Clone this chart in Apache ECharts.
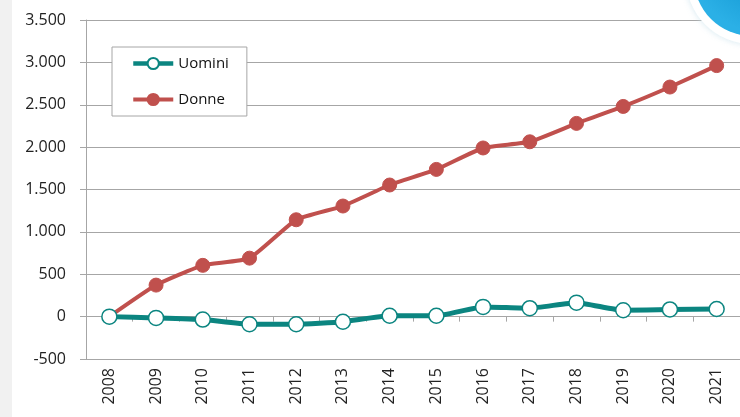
<!DOCTYPE html>
<html>
<head>
<meta charset="utf-8">
<script src="https://cdn.jsdelivr.net/npm/echarts@6/dist/echarts.min.js"></script>
<style>
  html, body { margin: 0; padding: 0; background: #fff; }
  #chart { width: 740px; height: 417px; }
</style>
</head>
<body>
<div id="chart"></div>
<script>
// dati del grafico
const anni = ['2008', '2009', '2010', '2011', '2012', '2013', '2014', '2015', '2016', '2017', '2018', '2019', '2020', '2021'];
const uomini = [0, -15, -35, -90, -90, -60, 10, 10, 115, 100, 165, 75, 85, 90];
const donne = [0, 372, 605, 690, 1143, 1305, 1553, 1737, 1990, 2063, 2280, 2480, 2709, 2962];
const yMin = -500;
const yMax = 3500;
const yStep = 500;

const chart = echarts.init(document.getElementById('chart'));

// formato italiano: 3.500
function formatIt(v) {
    const s = String(Math.abs(v)).replace(/\B(?=(\d{3})+(?!\d))/g, '.');
    return (v < 0 ? '-' : '') + s;
}

const grigio = '#a6a6a6';
const verde = '#0b8580';
const rosso = '#c0504d';
const font = '"Open Sans", sans-serif';

const options = {
    animation: false,
    textStyle: { fontFamily: font },
    graphic: [
        // striscia grigia a sinistra
        { type: 'rect', left: 0, top: 0, shape: { width: 12, height: 417 }, style: { fill: '#f1f1f1' }, z: -10 },
        // decorazione blu in alto a destra
        {
            type: 'circle', shape: { cx: 752, cy: -22, r: 58 }, z: 100,
            style: {
                fill: new echarts.graphic.RadialGradient(0.7, 0.2, 0.8, [
                    { offset: 0, color: '#7fd0f0' },
                    { offset: 0.6, color: '#1a9fd8' },
                    { offset: 1, color: '#2bb0e6' }
                ]),
                shadowBlur: 10, shadowColor: 'rgba(255,255,255,1)'
            }
        },
        {
            type: 'circle', shape: { cx: 752, cy: -22, r: 66 }, z: 99,
            style: { fill: '#ffffff', shadowBlur: 6, shadowColor: 'rgba(200,225,235,0.8)' }
        }
    ],
    grid: { left: 86, right: 0, top: 20, bottom: 58, containLabel: false },
    legend: {
        orient: 'vertical',
        left: 112,
        top: 47,
        padding: [9, 18, 9, 19],
        itemGap: 21,
        itemWidth: 40,
        itemHeight: 14,
        borderColor: grigio,
        borderWidth: 1,
        backgroundColor: '#fff',
        textStyle: { fontSize: 15, color: '#111', fontFamily: font },
        data: [
            { name: 'Uomini', lineStyle: { width: 4.5 } },
            { name: 'Donne', lineStyle: { width: 4 } }
        ]
    },
    xAxis: [
        {
            type: 'category',
            data: anni,
            position: 'bottom',
            axisLine: { show: false, onZero: false },
            axisTick: { show: false },
            axisLabel: { rotate: 90, fontSize: 16, color: '#222', margin: 9 }
        },
        {
            type: 'category',
            data: anni,
            position: 'top',
            axisLine: { show: true, onZero: true, lineStyle: { color: grigio, width: 1 } },
            axisTick: { show: true, inside: true, length: 5, lineStyle: { color: grigio } },
            axisLabel: { show: false }
        }
    ],
    yAxis: {
        type: 'value',
        min: yMin,
        max: yMax,
        interval: yStep,
        axisLine: { show: true, lineStyle: { color: grigio, width: 1 } },
        axisTick: { show: true, length: 6, lineStyle: { color: grigio } },
        splitLine: { lineStyle: { color: grigio, width: 1 } },
        axisLabel: { fontSize: 16, color: '#222', margin: 20, formatter: formatIt }
    },
    series: [
        {
            name: 'Uomini',
            type: 'line',
            data: uomini,
            smooth: 0.15,
            symbol: 'circle',
            symbolSize: 15,
            z: 3,
            lineStyle: { color: verde, width: 5 },
            itemStyle: { color: '#ffffff', borderColor: verde, borderWidth: 1.5 }
        },
        {
            name: 'Donne',
            type: 'line',
            data: donne,
            smooth: 0.15,
            symbol: 'circle',
            symbolSize: 14,
            z: 2,
            lineStyle: { color: rosso, width: 4 },
            itemStyle: { color: rosso, borderColor: rosso, borderWidth: 1 }
        }
    ]
};

chart.setOption(options);

window.addEventListener('resize', () => {
    chart.resize();
});
</script>
</body>
</html>
